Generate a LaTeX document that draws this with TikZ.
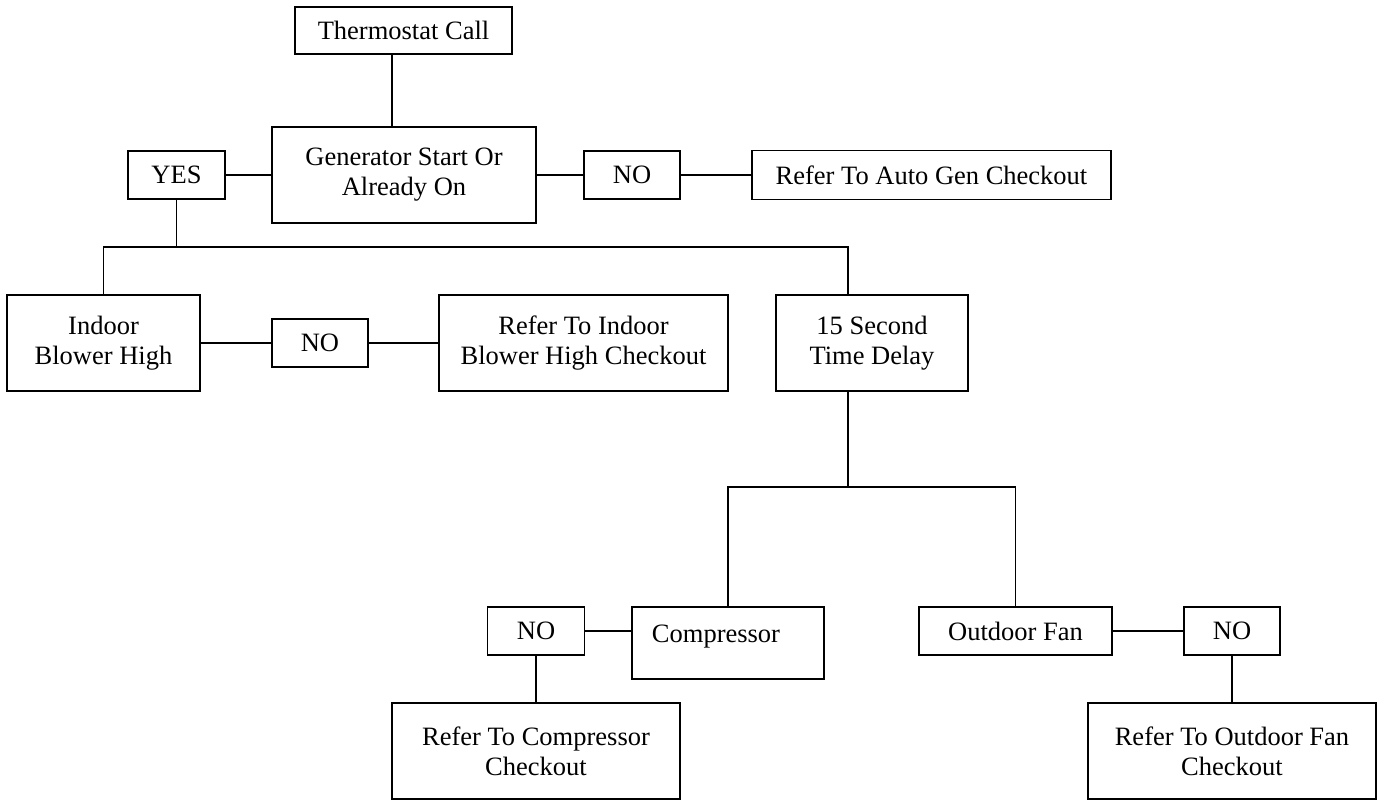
\documentclass[tikz,border=0pt]{standalone}
\usepackage{fontspec}
\setmainfont{Liberation Serif}
\begin{document}
\begin{tikzpicture}[x=1pt,y=-1pt,
  box/.style={draw=black,line width=1.3pt,rectangle,inner sep=0pt,align=center,
    font=\fontsize{26.5}{30}\selectfont},
  conn/.style={draw=black,line width=1.3pt},
  lbl/.style={inner sep=0pt,font=\fontsize{26.5}{30}\selectfont}]
\useasboundingbox (0,0) rectangle (1378,800);
\fill[white] (0,0) rectangle (1378,800);

\node[box,minimum width=217pt,minimum height=47pt] (therm) at (403.5,30.5) {Thermostat Call};
\node[box,minimum width=264pt,minimum height=96pt] (gen) at (404,175) {Generator Start Or\\Already On};
\node[box,minimum width=97pt,minimum height=48pt] (yes) at (176.5,175) {YES};
\node[box,minimum width=96pt,minimum height=48pt] (no1) at (632,175) {NO};
\node[box,minimum width=359pt,minimum height=49pt] (autogen) at (931.5,175) {Refer To Auto Gen Checkout};
\node[box,minimum width=193pt,minimum height=96pt] (indoor) at (103.5,343) {Indoor\\Blower High};
\node[box,minimum width=96pt,minimum height=48pt] (no2) at (320,343) {NO};
\node[box,minimum width=289pt,minimum height=96pt] (refindoor) at (583.5,343) {Refer To Indoor\\Blower High Checkout};
\node[box,minimum width=192pt,minimum height=96pt] (delay) at (872,343) {15 Second\\Time Delay};
\node[box,minimum width=192pt,minimum height=72pt] (comp) at (728,643) {};
\node[lbl,anchor=base] (complbl) at (716,642) {Compressor};
\node[box,minimum width=97pt,minimum height=48pt] (no3) at (536,631) {NO};
\node[box,minimum width=288pt,minimum height=96pt] (refcomp) at (536,751) {Refer To Compressor\\Checkout};
\node[box,minimum width=193pt,minimum height=48pt] (fan) at (1015.5,631) {Outdoor Fan};
\node[box,minimum width=96pt,minimum height=48pt] (no4) at (1232,631) {NO};
\node[box,minimum width=288pt,minimum height=96pt] (reffan) at (1232,751) {Refer To Outdoor Fan\\Checkout};

\coordinate (t1) at (392,0);
\coordinate (j1) at (176.5,247);
\coordinate (j2) at (848,247);
\coordinate (j3) at (848,487);

\draw[conn] (t1 |- therm.south) -- (t1 |- gen.north);
\draw[conn] (yes.east) -- (gen.west);
\draw[conn] (gen.east) -- (no1.west);
\draw[conn] (no1.east) -- (autogen.west);
\draw[conn] (yes.south) -- (j1);
\draw[conn] (indoor.north) |- (j2) -- (j2 |- delay.north);
\draw[conn] (indoor.east) -- (no2.west);
\draw[conn] (no2.east) -- (refindoor.west);
\draw[conn] (j3 |- delay.south) -- (j3);
\draw[conn] (comp.north) |- (j3) -| (fan.north);
\draw[conn] (no3.east) -- (no3.east -| comp.west);
\draw[conn] (no3.south) -- (refcomp.north);
\draw[conn] (fan.east) -- (no4.west);
\draw[conn] (no4.south) -- (reffan.north);
\end{tikzpicture}
\end{document}
